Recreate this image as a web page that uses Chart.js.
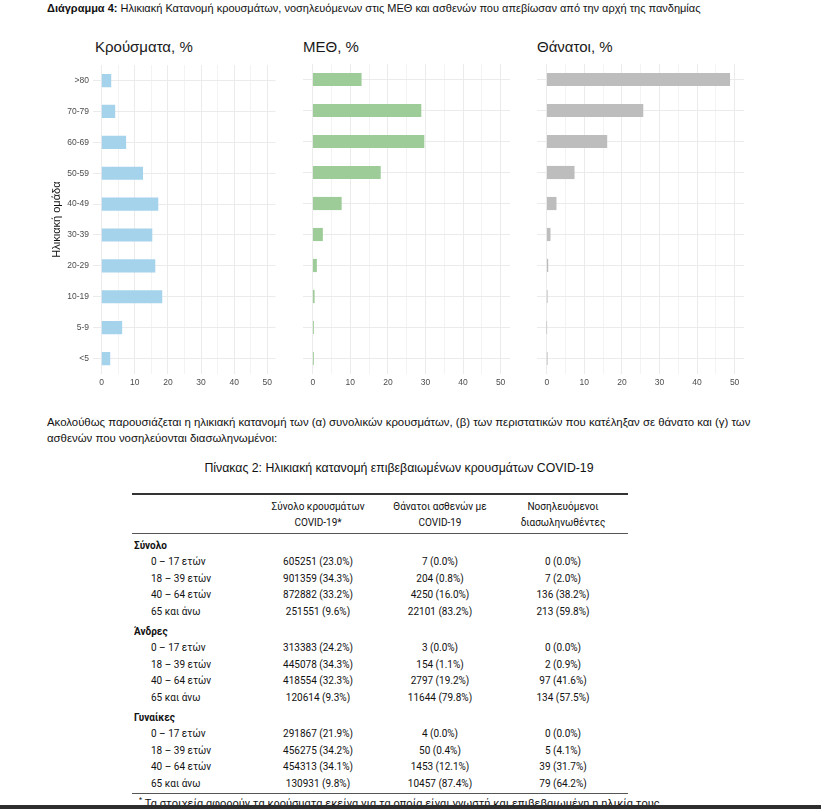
<!DOCTYPE html>
<html>
<head>
<meta charset="utf-8">
<script src="https://cdn.jsdelivr.net/npm/chart.js@4.4.0/dist/chart.umd.min.js"></script>
<style>
  body { margin: 0; width: 821px; height: 809px; position: relative; overflow: hidden; background: #fff;
         font-family: "Liberation Sans Narrow", "Liberation Sans", Arial, sans-serif; color: #111; }
  .abs { position: absolute; white-space: nowrap; }
  canvas { position: absolute; }
  .ptitle { font-size: 15px; color: #1a1a1a; top: 38px; line-height: 18px; }
  .tbl { font-family: Roboto, "Noto Sans", sans-serif; font-size: 10px; color: #111; }
  .rule { position: absolute; left: 132px; width: 496px; background: #333; }
</style>
</head>
<body>
<div class="abs" style="left:47px;top:1px;font-size:11px;line-height:14px;"><b>Διάγραμμα 4:</b> Ηλικιακή Κατανομή κρουσμάτων, νοσηλευόμενων στις ΜΕΘ και ασθενών που απεβίωσαν από την αρχή της πανδημίας</div>

<div class="abs ptitle" style="left:95px;">Κρούσματα, %</div>
<div class="abs ptitle" style="left:303px;">ΜΕΘ, %</div>
<div class="abs ptitle" style="left:537px;">Θάνατοι, %</div>

<canvas id="casesChart" width="236" height="338" style="left:40px;top:56px;width:236px;height:338px;"></canvas>
<canvas id="icuChart" width="207" height="338" style="left:303px;top:56px;width:207px;height:338px;"></canvas>
<canvas id="deathsChart" width="207" height="338" style="left:537px;top:56px;width:207px;height:338px;"></canvas>

<div class="abs" style="left:47px;top:414px;font-size:11.4px;line-height:16px;">Ακολούθως παρουσιάζεται η ηλικιακή κατανομή των (α) συνολικών κρουσμάτων, (β) των περιστατικών που κατέληξαν σε θάνατο και (γ) των<br>ασθενών που νοσηλεύονται διασωληνωμένοι:</div>

<div class="abs" style="left:0;width:798px;text-align:center;top:460px;font-size:12.3px;line-height:16px;">Πίνακας 2: Ηλικιακή κατανομή επιβεβαιωμένων κρουσμάτων COVID-19</div>

<div class="rule" style="top:493px;height:1.5px;"></div>
<div class="rule" style="top:533px;height:1px;background:#555;"></div>
<div class="rule" style="top:793px;height:1px;background:#555;"></div>
<div id="table"></div>

<div class="abs tbl" style="left:139px;top:796px;font-size:11px;"><sup style="font-size:7px;">*</sup> Τα στοιχεία αφορούν τα κρούσματα εκείνα για τα οποία είναι γνωστή και επιβεβαιωμένη η ηλικία τους</div>
<div class="abs" style="left:0;top:805px;width:821px;height:4px;background:#2e2e2e;"></div>

<script>
// chart data, top panel row (%)
const ageGroups = [">80", "70-79", "60-69", "50-59", "40-49", "30-39", "20-29", "10-19", "5-9", "<5"];
const casesPct = [2.8, 4.0, 7.3, 12.4, 17.0, 15.2, 16.1, 18.2, 6.1, 2.5];
const icuPct = [12.9, 28.8, 29.6, 18.0, 7.6, 2.6, 1.0, 0.4, 0.2, 0.2];
const deathsPct = [48.7, 25.6, 16.0, 7.3, 2.5, 0.9, 0.3, 0.1, 0, 0.1];
const xTicks = [0, 5, 10, 15, 20, 25, 30, 35, 40, 45, 50];

// table data
const colHeaders = [["Σύνολο κρουσμάτων", "COVID-19*"], ["Θάνατοι ασθενών με", "COVID-19"], ["Νοσηλευόμενοι", "διασωληνωθέντες"]];
const rowLabels = ["0 – 17 ετών", "18 – 39 ετών", "40 – 64 ετών", "65 και άνω"];
const groupNames = ["Σύνολο", "Άνδρες", "Γυναίκες"];
const totalRows = [["605251 (23.0%)", "7 (0.0%)", "0 (0.0%)"], ["901359 (34.3%)", "204 (0.8%)", "7 (2.0%)"], ["872882 (33.2%)", "4250 (16.0%)", "136 (38.2%)"], ["251551 (9.6%)", "22101 (83.2%)", "213 (59.8%)"]];
const menRows = [["313383 (24.2%)", "3 (0.0%)", "0 (0.0%)"], ["445078 (34.3%)", "154 (1.1%)", "2 (0.9%)"], ["418554 (32.3%)", "2797 (19.2%)", "97 (41.6%)"], ["120614 (9.3%)", "11644 (79.8%)", "134 (57.5%)"]];
const womenRows = [["291867 (21.9%)", "4 (0.0%)", "0 (0.0%)"], ["456275 (34.2%)", "50 (0.4%)", "5 (4.1%)"], ["454313 (34.1%)", "1453 (12.1%)", "39 (31.7%)"], ["130931 (9.8%)", "10457 (87.4%)", "79 (64.2%)"]];

const gridGrey = "#ebebeb";
const tickGrey = "#4d4d4d";

function makePanel(id, values, color, withLabels) {
  return new Chart(document.getElementById(id), {
    type: "bar",
    data: {
      labels: ageGroups,
      datasets: [{ data: values, backgroundColor: color, barThickness: 12.5 }],
    },
    options: {
      indexAxis: "y",
      responsive: false,
      animation: false,
      layout: { padding: { top: 8, left: 0, right: 0, bottom: 0 } },
      plugins: { legend: { display: false }, tooltip: { enabled: false } },
      scales: {
        x: {
          type: "linear",
          min: -2.6,
          max: 52.5,
          afterBuildTicks: (axis) => { axis.ticks = xTicks.map((v) => ({ value: v })); },
          afterFit: (axis) => { axis.height = 20; },
          border: { display: false },
          grid: {
            drawTicks: false,
            color: gridGrey,
            lineWidth: (ctx) => (ctx.tick && ctx.tick.value % 10 === 0 ? 1 : 0.6),
          },
          ticks: {
            padding: 4,
            color: tickGrey,
            font: { family: "Liberation Sans", size: 8.5 },
            callback: (v) => (v % 10 === 0 ? v : ""),
          },
        },
        y: {
          border: { display: false },
          grid: { offset: false, drawTicks: false, color: gridGrey },
          ticks: { display: withLabels, padding: 4, color: tickGrey, font: { family: "Liberation Sans", size: 8.5 } },
          title: {
            display: withLabels,
            text: "Ηλικιακή ομάδα",
            color: "#111",
            padding: { top: 10, bottom: 0 },
            font: { family: "Liberation Sans Narrow, Liberation Sans", size: 11 },
          },
          afterFit: (axis) => { axis.width = withLabels ? 53 : 0; },
        },
      },
    },
  });
}

makePanel("casesChart", casesPct, "#a6d3ec", true);
makePanel("icuChart", icuPct, "#9dcc98", false);
makePanel("deathsChart", deathsPct, "#bdbdbd", false);

// table
const colCenters = [318, 440, 563];
const table = document.getElementById("table");
function addText(txt, x, y, opts) {
  const d = document.createElement("div");
  d.className = "abs tbl";
  d.textContent = txt;
  d.style.top = (y - 7) + "px";
  d.style.lineHeight = "14px";
  if (opts && opts.center) {
    d.style.left = (x - 100) + "px";
    d.style.width = "200px";
    d.style.textAlign = "center";
  } else {
    d.style.left = x + "px";
  }
  if (opts && opts.bold) d.style.fontWeight = "bold";
  table.appendChild(d);
}
colHeaders.forEach((h, i) => {
  addText(h[0], colCenters[i], 507, { center: true });
  addText(h[1], colCenters[i], 523, { center: true });
});
const groupStarts = [546, 632, 718];
[totalRows, menRows, womenRows].forEach((rows, g) => {
  addText(groupNames[g], 134, groupStarts[g], { bold: true });
  rows.forEach((r, i) => {
    const y = groupStarts[g] + 16.4 * (i + 1);
    addText(rowLabels[i], 151, y);
    r.forEach((cell, c) => addText(cell, colCenters[c], y, { center: true }));
  });
});
</script>
</body>
</html>
